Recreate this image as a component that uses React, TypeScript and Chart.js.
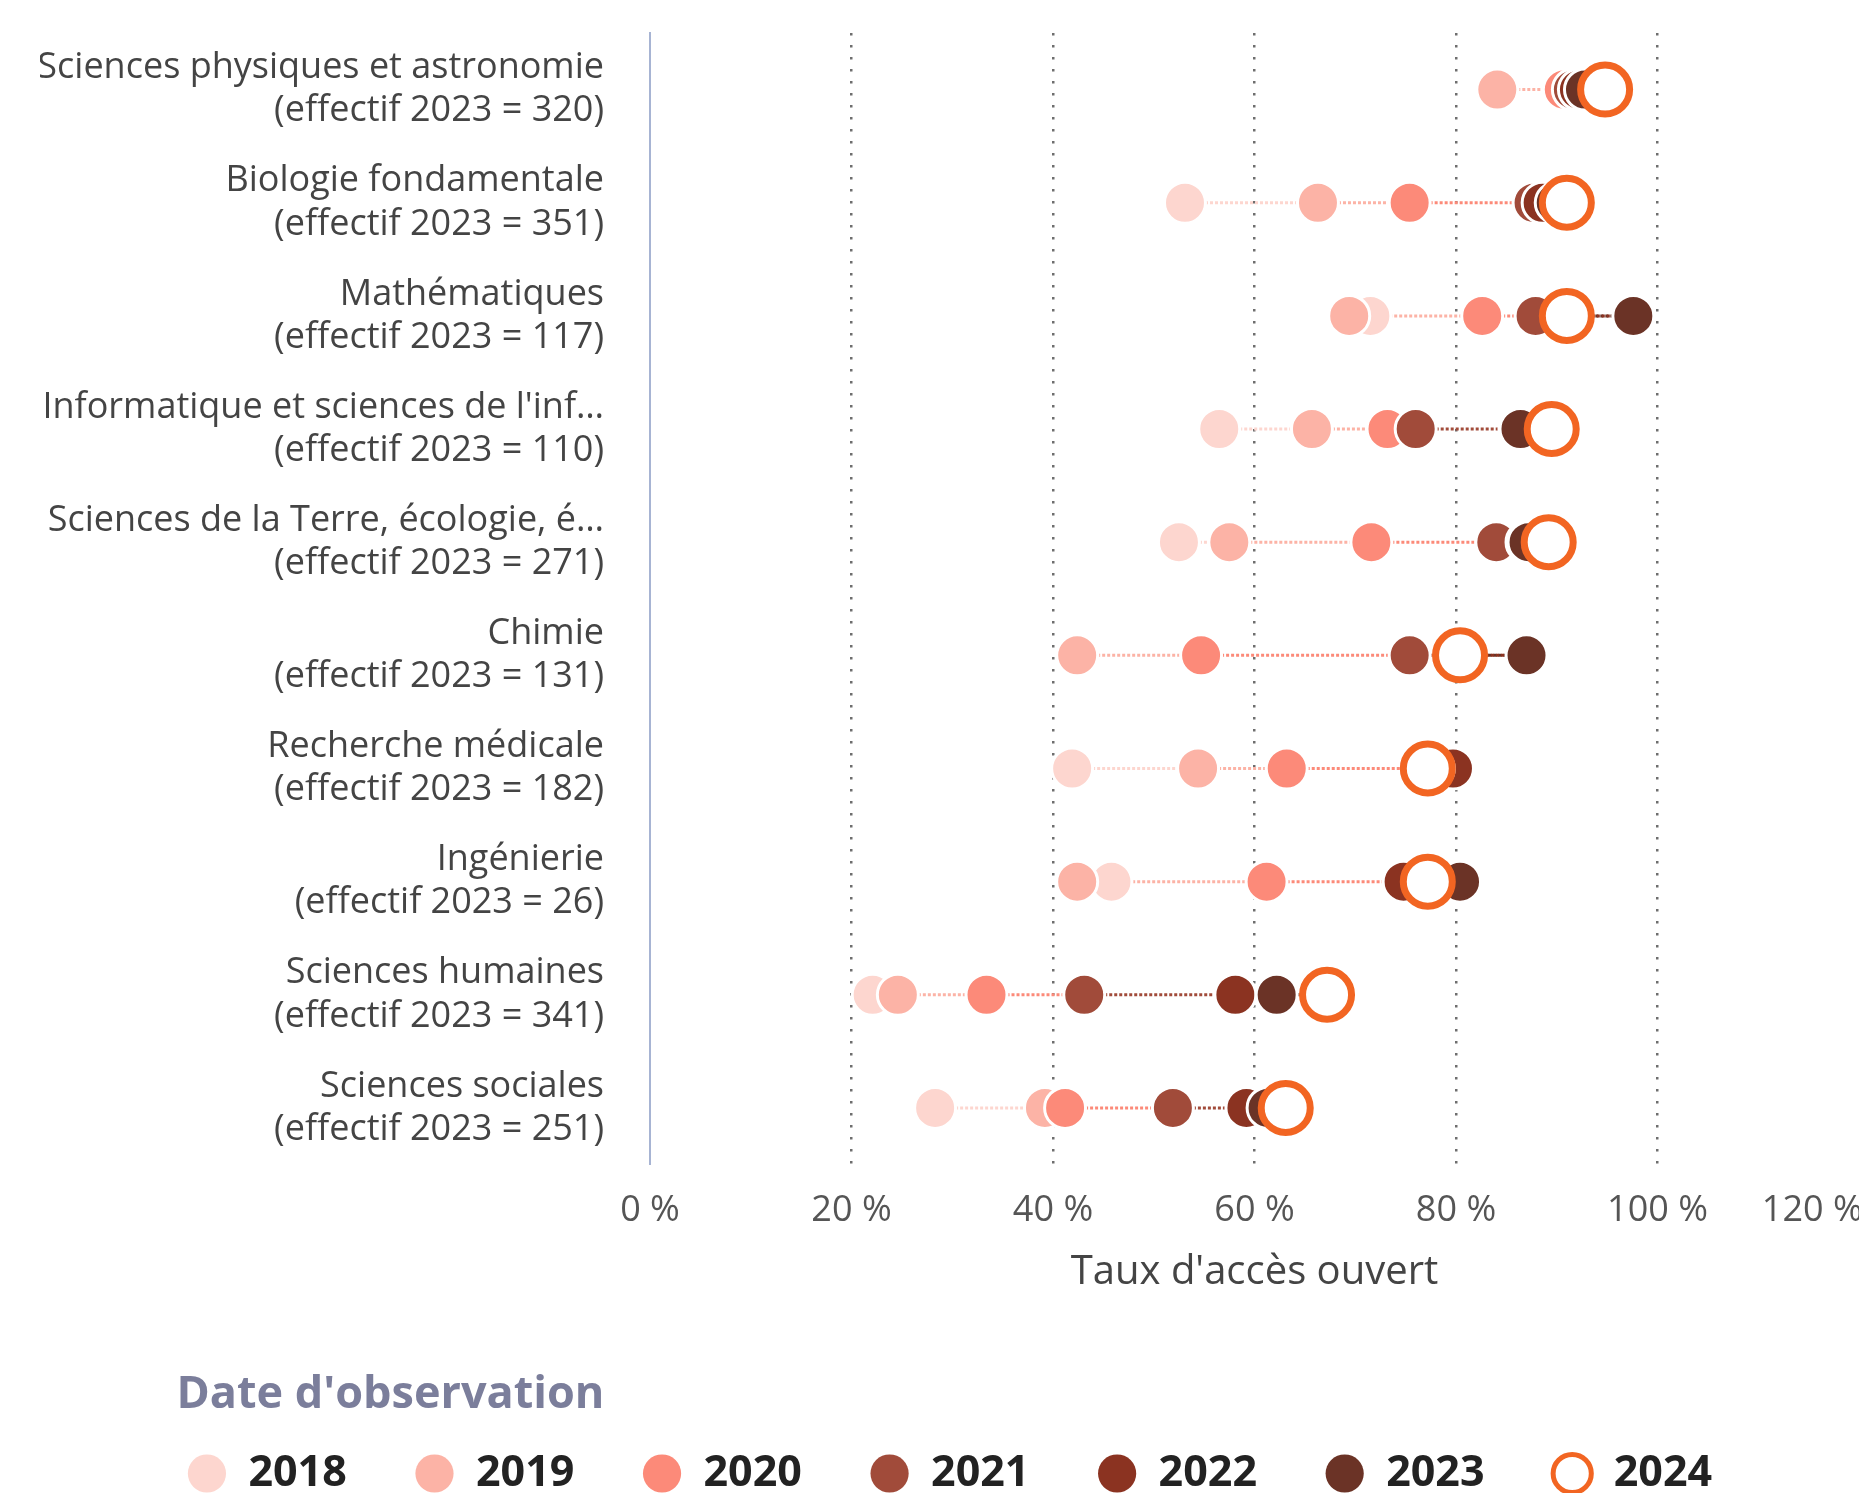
import React, { useEffect, useRef } from 'react';
import { Chart, registerables } from 'chart.js';

Chart.register(...registerables);

const categories: string[][] = [
  ['Sciences physiques et astronomie', '(effectif 2023 = 320)'],
  ['Biologie fondamentale', '(effectif 2023 = 351)'],
  ['Mathématiques', '(effectif 2023 = 117)'],
  ["Informatique et sciences de l'inf…", '(effectif 2023 = 110)'],
  ['Sciences de la Terre, écologie, é…', '(effectif 2023 = 271)'],
  ['Chimie', '(effectif 2023 = 131)'],
  ['Recherche médicale', '(effectif 2023 = 182)'],
  ['Ingénierie', '(effectif 2023 = 26)'],
  ['Sciences humaines', '(effectif 2023 = 341)'],
  ['Sciences sociales', '(effectif 2023 = 251)'],
];

const years = ['2018', '2019', '2020', '2021', '2022', '2023', '2024'];

const rate2018 = [84.1, 53.1, 71.5, 56.5, 52.5, 42.4, 41.9, 45.8, 22.1, 28.3];
const rate2019 = [84.1, 66.3, 69.4, 65.7, 57.5, 42.4, 54.4, 42.4, 24.6, 39.2];
const rate2020 = [90.7, 75.4, 82.6, 73.2, 71.6, 54.7, 63.2, 61.2, 33.4, 41.2];
const rate2021 = [91.6, 87.7, 87.9, 76.0, 84.0, 75.4, 76.8, 76.0, 43.1, 51.9];
const rate2022 = [92.2, 88.6, 90.5, 86.3, 87.0, 80.0, 79.7, 74.8, 58.1, 59.2];
const rate2023 = [92.8, 89.9, 97.6, 86.4, 87.2, 87.0, 77.8, 80.4, 62.2, 61.3];
const rate2024 = [94.8, 91.0, 91.0, 89.5, 89.2, 80.4, 77.2, 77.2, 67.2, 63.1];

const yearColors = ['#fdd6cf', '#fcb3a6', '#fc8a79', '#a14b3a', '#8b3321', '#6b3326', '#f26522'];

const xTickValues = [0, 20, 40, 60, 80, 100, 120];

const FONT = "'Open Sans', sans-serif";

export default function App() {
  const ref = useRef<HTMLCanvasElement>(null);

  useEffect(() => {
    if (!ref.current) return;
    const series = [rate2018, rate2019, rate2020, rate2021, rate2022, rate2023, rate2024];

    const segmentDatasets: any[] = [];
    for (let i = 0; i < 6; i++) {
      const data: any[] = [];
      categories.forEach((cat, c) => {
        data.push({ x: series[i][c], y: cat });
        data.push({ x: series[i + 1][c], y: cat });
        data.push({ x: null, y: cat });
      });
      segmentDatasets.push({
        type: 'line',
        label: 'seg' + years[i],
        data,
        borderColor: yearColors[i],
        backgroundColor: yearColors[i],
        borderWidth: 3,
        borderDash: [3, 2],
        pointRadius: 0,
        pointHoverRadius: 0,
        pointHitRadius: 0,
        fill: false,
        showLine: true,
        spanGaps: false,
        tension: 0,
        order: 20,
      });
    }

    const pointDatasets = years.map((yr, i) => {
      const ring = i === 6;
      return {
        type: 'scatter',
        label: yr,
        data: categories.map((cat, c) => ({ x: series[i][c], y: cat })),
        backgroundColor: ring ? '#ffffff' : yearColors[i],
        borderColor: ring ? yearColors[6] : '#ffffff',
        borderWidth: ring ? 7 : 3,
        pointRadius: ring ? 24.5 : 20.5,
        pointHoverRadius: ring ? 24.5 : 20.5,
        pointStyle: 'circle',
        showLine: false,
        order: 7 - i,
      };
    });

    const defaultGen = (Chart as any).defaults.plugins.legend.labels.generateLabels;
    const lastTick = xTickValues[xTickValues.length - 1];

    const chart = new Chart(ref.current, {
      type: 'scatter',
      data: {
        labels: categories as any,
        datasets: [...segmentDatasets, ...pointDatasets] as any,
      },
      options: {
        responsive: false,
        animation: false,
        events: [],
        font: { family: FONT },
        layout: { autoPadding: false, padding: { top: 33, left: 40, right: 0, bottom: 0 } },
        scales: {
          x: {
            type: 'linear',
            min: 0,
            max: 120,
            afterBuildTicks: (s: any) => {
              s.ticks = xTickValues.map((v) => ({ value: v }));
            },
            afterFit: (s: any) => {
              s.paddingLeft = 0;
              s.paddingRight = 0;
              s.height = 178.5;
            },
            grid: {
              drawTicks: false,
              lineWidth: 2.5,
              color: (ctx: any) =>
                ctx.tick && ctx.tick.value > 0 && ctx.tick.value < 120 ? '#6e6e6e' : 'rgba(0,0,0,0)',
            },
            border: { display: false, dash: [2.5, 9.5] },
            ticks: {
              padding: 25,
              color: '#555555',
              font: { family: FONT, size: 36 },
              callback: (v: any) =>
                v === lastTick ? `${v} %` + '\u00a0'.repeat(10) : `${v} %`,
            },
            title: {
              display: true,
              text: "Taux d'accès ouvert",
              color: '#444444',
              font: { family: FONT, size: 40 },
              padding: { top: 0, bottom: 46 },
            },
          },
          y: {
            type: 'category',
            offset: true,
            afterFit: (s: any) => {
              s.width = 610;
              s.paddingTop = 0;
              s.paddingBottom = 0;
            },
            grid: { display: false, drawTicks: false },
            border: { display: true, color: '#a7b4d3', width: 2 },
            ticks: {
              padding: 46,
              color: '#444444',
              autoSkip: false,
              font: { family: FONT, size: 36 },
            },
          },
        } as any,
        plugins: {
          tooltip: { enabled: false },
          legend: {
            display: true,
            position: 'bottom',
            align: 'center',
            labels: {
              usePointStyle: true,
              pointStyle: 'circle',
              boxWidth: 40,
              boxHeight: 27,
              padding: 67.7,
              color: '#222222',
              font: { family: FONT, size: 43, weight: 'bold' },
              generateLabels: (ch: any) =>
                defaultGen(ch).map((l: any) => ({
                  ...l,
                  lineWidth: l.text === '2024' ? 5 : 0,
                })),
              filter: (item: any) => item.datasetIndex >= 6,
              sort: (a: any, b: any) => a.datasetIndex - b.datasetIndex,
            },
            title: {
              display: true,
              text: "  Date d'observation",
              color: '#7b7e9b',
              position: 'start',
              font: { family: FONT, size: 45, weight: 'bold' },
              padding: { top: 30, bottom: -42.7 },
            },
          } as any,
        },
      } as any,
    });

    return () => chart.destroy();
  }, []);

  return (
    <div
      style={{
        position: 'fixed',
        left: 0,
        top: 0,
        width: 1859,
        height: 1493,
        overflow: 'hidden',
        background: '#ffffff',
      }}
    >
      <canvas ref={ref} width={1859} height={1505} style={{ display: 'block' }} />
    </div>
  );
}
